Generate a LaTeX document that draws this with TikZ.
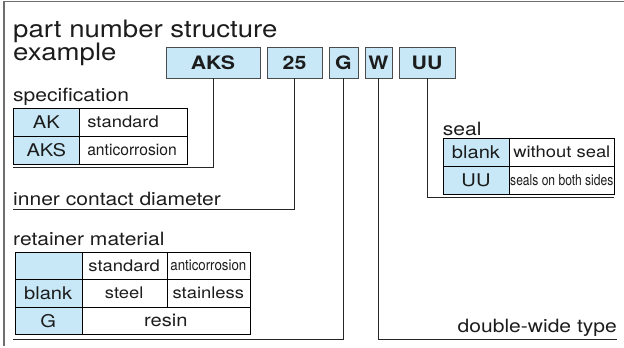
\documentclass[tikz,border=0pt]{standalone}
\usepackage{fontspec}
\usepackage{graphicx}
\setmainfont{TeX Gyre Heros}[FakeStretch=1.15]
\usetikzlibrary{positioning}

\definecolor{codeblue}{HTML}{C8E8F8}
\definecolor{inkgray}{HTML}{1C1C1C}
\definecolor{framegray}{HTML}{6E6E6E}

\tikzset{
  codebox/.style={draw=black!70, fill=codeblue, minimum height=31pt, inner sep=0pt,
    outer sep=0pt, anchor=north west, font=\fontsize{18.5}{18.5}\selectfont\bfseries},
  cell/.style={draw=black, minimum height=28pt, inner sep=0pt, outer sep=0pt,
    anchor=north west, font=\fontsize{16}{16}\selectfont},
  keycell/.style={cell, fill=codeblue, font=\fontsize{17.5}{17.5}\selectfont},
  leftcell/.style={cell, text width=100pt, inner xsep=4pt, align=left},
  heading/.style={anchor=base west, inner sep=0pt, font=\fontsize{18.3}{18.3}\selectfont},
  lead/.style={black!85, line width=0.9pt},
}

\begin{document}
\begin{tikzpicture}[x=1pt, y=-1pt, every node/.style={text=inkgray}]
\useasboundingbox (0,0) rectangle (624,348);
%\draw[step=10pt,gray!30,very thin] (0,0) grid (624,348); %background grid
\draw[framegray, line width=1.5pt] (4,346) -- (4,1.5) -- (624,1.5);

% title
\node[heading, font=\fontsize{24}{24}\selectfont] (title) at (13,37.7) {part number structure};
\node[heading, font=\fontsize{24}{24}\selectfont] (title2) at (13,60) {example};

% part number
\node[codebox, minimum width=94pt] (aks) at (166,47) {AKS};
\node[codebox, minimum width=55pt] (dia) at (267,47) {25};
\node[codebox, minimum width=29pt] (cage) at (329,47) {G};
\node[codebox, minimum width=27pt] (wide) at (365,47) {W};
\node[codebox, minimum width=56pt] (seal) at (399,47) {UU};

% specification
\node[heading] (spec) at (13,101.7) {specification};
\node[keycell, minimum width=66pt] (ak) at (13.3,108) {AK};
\node[leftcell, right=0pt of ak] (akdesc) {\hspace*{4pt}standard};
\node[keycell, minimum width=66pt, below=0pt of ak] (akstwo) {AKS};
\node[leftcell, right=0pt of akstwo] (aksdesc) {\hspace*{4pt}\scalebox{0.85}[1]{anticorrosion}};

% inner contact diameter
\node[heading] (diam) at (13,205.7) {inner contact diameter};

% retainer material
\node[heading] (cagetitle) at (13,245.7) {retainer material};
\node[keycell, minimum width=67pt, minimum height=27.5pt] (corner) at (14.7,252) {};
\node[cell, minimum width=85pt, minimum height=27.5pt, right=0pt of corner] (stdhead) {standard};
\node[cell, minimum width=83.3pt, minimum height=27.5pt, right=0pt of stdhead,
  font=\fontsize{15}{15}\selectfont] (antihead) {\scalebox{0.77}[1]{anticorrosion}};
\node[keycell, minimum width=67pt, minimum height=27.5pt, below=0pt of corner] (blank) {blank};
\node[cell, minimum width=85pt, minimum height=27.5pt, right=0pt of blank] (steel) {steel};
\node[cell, minimum width=83.3pt, minimum height=27.5pt, right=0pt of steel] (stainless) {stainless};
\node[keycell, minimum width=67pt, minimum height=27.5pt, below=0pt of blank] (gkey) {G};
\node[cell, minimum width=168.3pt, minimum height=27.5pt, right=0pt of gkey,
  font=\fontsize{17.5}{17.5}\selectfont] (resin) {resin};

% seal
\node[heading] (sealtitle) at (442.7,135) {seal};
\node[keycell, minimum width=66.6pt] (sblank) at (442.7,138) {blank};
\node[cell, minimum width=105pt, right=0pt of sblank] (sblankdesc) {without seal};
\node[keycell, minimum width=66.6pt, below=0pt of sblank] (suu) {UU};
\node[cell, minimum width=105pt, right=0pt of suu,
  font=\fontsize{15}{15}\selectfont] (suudesc) {\scalebox{0.70}[1]{seals on both sides}};

% double-wide
\node[heading, anchor=base east] (widetitle) at (617,332) {double-wide type};

% leaders
\coordinate (specend) at (13,167);
\coordinate (diaend) at (13,209);
\coordinate (cageend) at (13,339);
\coordinate (wideend) at (617,339);
\coordinate (sealend) at (614.3,197);
\draw[lead] (aks.south) |- (specend);
\draw[lead] (dia.south) |- (diaend);
\draw[lead] (cage.south) |- (cageend);
\draw[lead] (wide.south) |- (wideend);
\draw[lead] (seal.south) |- (sealend);
\end{tikzpicture}
\end{document}
